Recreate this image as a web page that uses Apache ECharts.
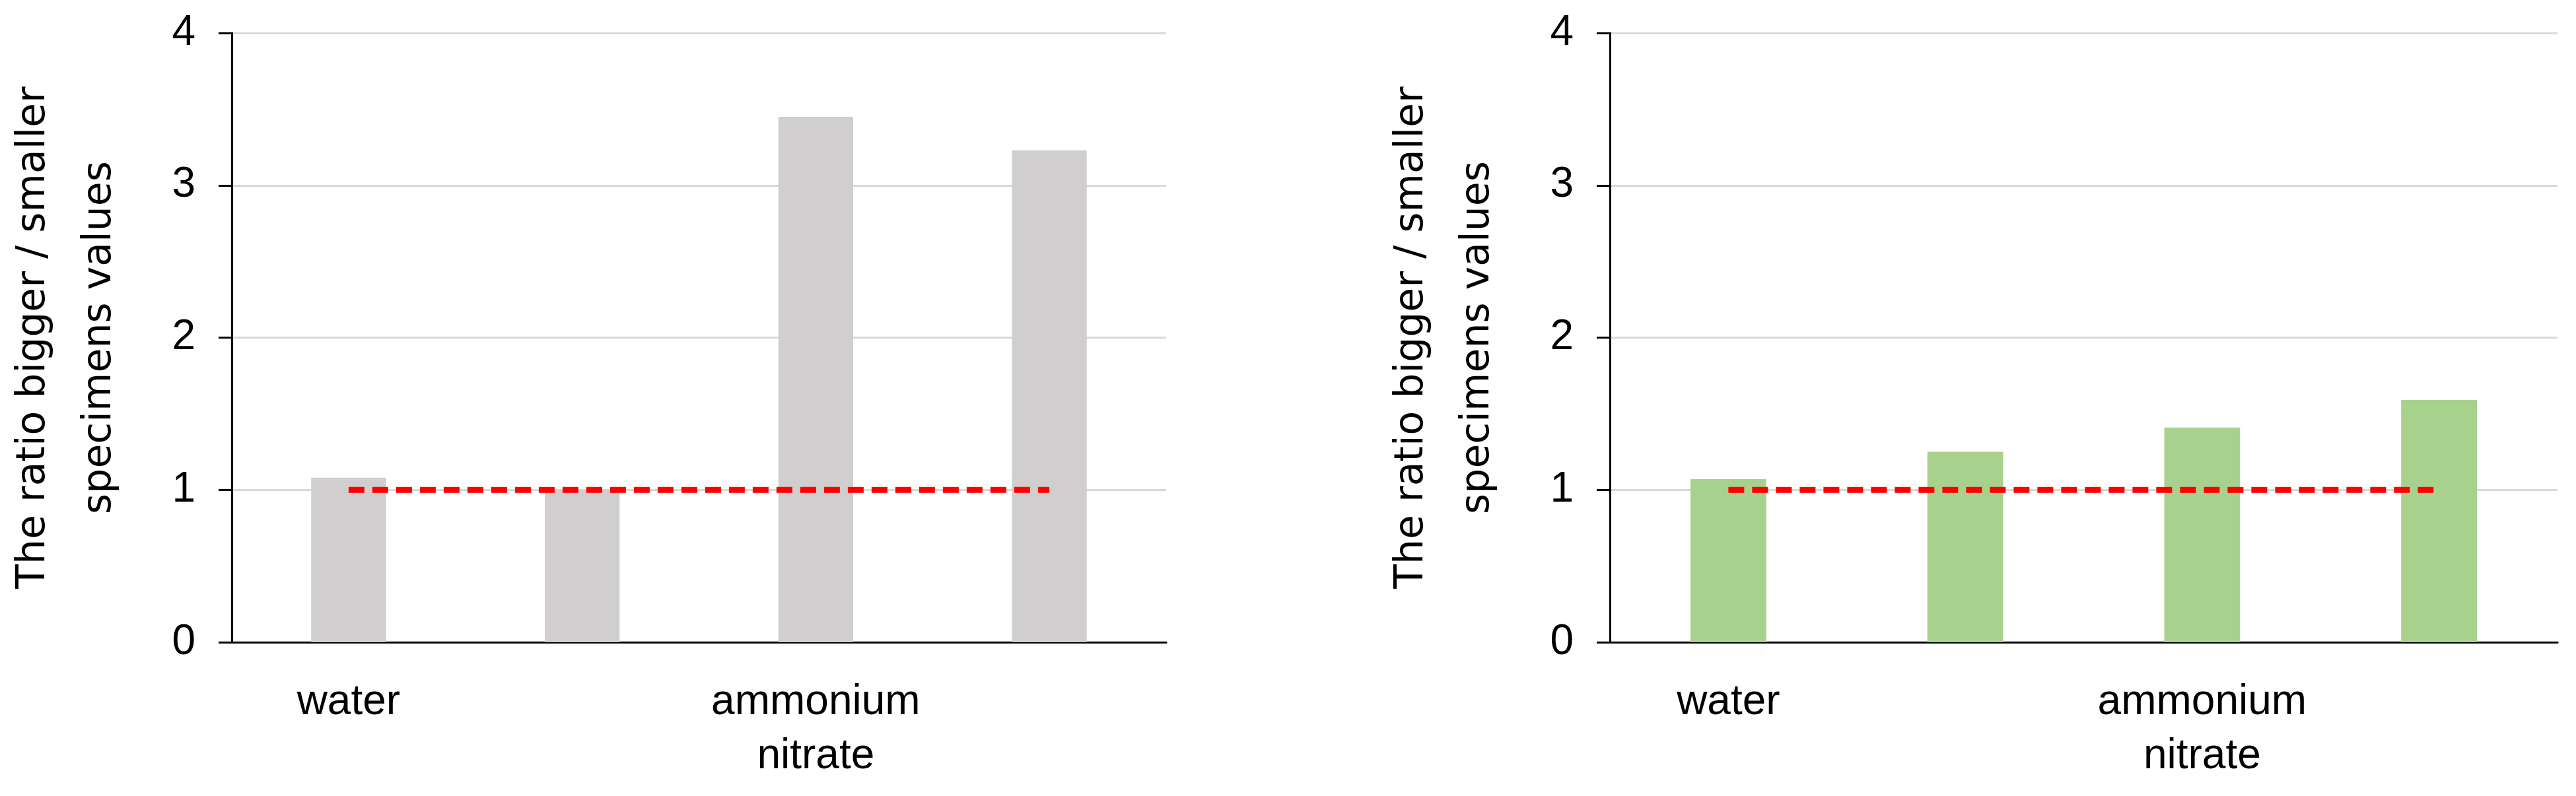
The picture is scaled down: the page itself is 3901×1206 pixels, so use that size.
<!DOCTYPE html>
<html lang="en">
<head>
<meta charset="utf-8">
<style>
  * { margin: 0; padding: 0; }
  #chart-container { width: 3901px; height: 1206px; background: #fff; }
</style>
</head>
<body>
<div id="chart-container"></div>
<script src="https://cdn.jsdelivr.net/npm/echarts@6/dist/echarts.min.js"></script>
<script>
var categories = ['water', 'magnesium\nsulphate', 'ammonium\nnitrate', 'acetic acid'];
var leftValues = [1.08, 1.0, 3.45, 3.23];
var rightValues = [1.07, 1.25, 1.41, 1.59];
var refLine = [1, 1, 1, 1];
var yName = 'The ratio bigger / smaller\nspecimens values';

var labelFont = '"Liberation Sans Narrow", "Liberation Sans", sans-serif';

function xAxisFor(i) {
  return {
    type: 'category', gridIndex: i, data: categories,
    axisLine: { lineStyle: { color: '#000', width: 3 } },
    axisTick: { show: false },
    axisLabel: { color: '#000', fontSize: 64, fontFamily: labelFont, margin: 50, lineHeight: 82 }
  };
}
function yAxisFor(i) {
  return {
    type: 'value', gridIndex: i, min: 0, max: 4, interval: 1,
    name: yName, nameLocation: 'middle', nameGap: 150,
    nameTextStyle: { color: '#000', fontSize: 60, fontFamily: 'DejaVu Sans', lineHeight: 100 },
    axisLine: { show: true, lineStyle: { color: '#000', width: 3 } },
    axisTick: { show: true, length: 20, lineStyle: { color: '#000', width: 3 } },
    axisLabel: { color: '#000', fontSize: 64, fontFamily: labelFont, margin: 55 },
    splitLine: { lineStyle: { color: '#d9d9d9', width: 3 } }
  };
}
function barsFor(i, data, color) {
  return [
    { type: 'bar', xAxisIndex: i, yAxisIndex: i, data: data, barWidth: '32%',
      itemStyle: { color: color }, silent: true },
    { type: 'line', xAxisIndex: i, yAxisIndex: i, data: refLine, symbol: 'none', z: 5,
      lineStyle: { color: '#ff0000', width: 9, type: [24, 12] }, silent: true }
  ];
}

var myChart = echarts.init(document.getElementById('chart-container'), null, { renderer: 'canvas' });
var option = {
  animation: false,
  grid: [
    { left: 331, right: 2135, top: 50, bottom: 233 },
    { left: 2438, right: 28, top: 50, bottom: 233 }
  ],
  xAxis: [xAxisFor(0), xAxisFor(1)],
  yAxis: [yAxisFor(0), yAxisFor(1)],
  series: barsFor(0, leftValues, '#d0cece').concat(barsFor(1, rightValues, '#a9d18e'))
};
myChart.setOption(option);
</script>
</body>
</html>
